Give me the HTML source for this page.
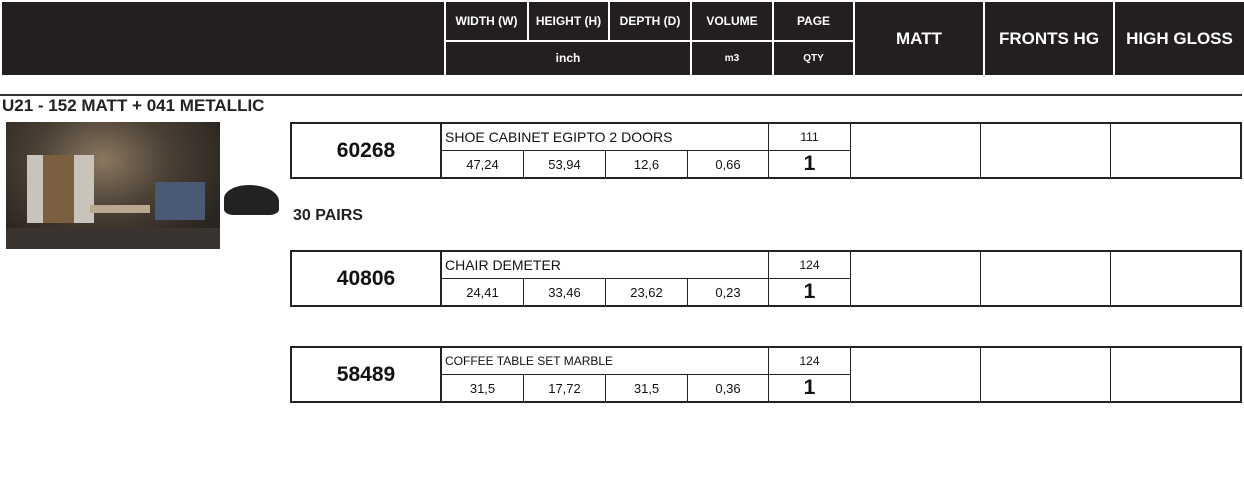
<!DOCTYPE html>
<html><head><meta charset="utf-8"><style>
*{margin:0;padding:0;box-sizing:border-box}
body{width:1244px;height:480px;background:#fff;position:relative;overflow:hidden;font-family:"Liberation Sans",Arial,sans-serif}
.a{position:absolute}
.hd{position:absolute;background:#231f20}
.ht{position:absolute;color:#fff;font-weight:bold;display:flex;align-items:center;justify-content:center}
.c{position:absolute;display:flex;align-items:center;justify-content:center;color:#111;border:1px solid #222}
.v{position:absolute;background:#222}
</style></head><body>
<div class="hd" style="left:2px;top:2px;width:1242px;height:73px"></div>
<div class="v" style="background:#fff;left:444px;top:2px;width:2px;height:73px"></div>
<div class="v" style="background:#fff;left:527px;top:2px;width:2px;height:39px"></div>
<div class="v" style="background:#fff;left:608px;top:2px;width:2px;height:39px"></div>
<div class="v" style="background:#fff;left:690px;top:2px;width:2px;height:73px"></div>
<div class="v" style="background:#fff;left:772px;top:2px;width:2px;height:73px"></div>
<div class="v" style="background:#fff;left:853px;top:2px;width:2px;height:73px"></div>
<div class="v" style="background:#fff;left:983px;top:2px;width:2px;height:73px"></div>
<div class="v" style="background:#fff;left:1113px;top:2px;width:2px;height:73px"></div>
<div class="v" style="background:#fff;left:444px;top:40px;width:411px;height:2px"></div>
<div class="ht" style="left:446px;top:2px;width:81px;height:38px;font-size:12px">WIDTH (W)</div>
<div class="ht" style="left:529px;top:2px;width:79px;height:38px;font-size:12px">HEIGHT (H)</div>
<div class="ht" style="left:610px;top:2px;width:80px;height:38px;font-size:12px">DEPTH (D)</div>
<div class="ht" style="left:692px;top:2px;width:80px;height:38px;font-size:12px">VOLUME</div>
<div class="ht" style="left:774px;top:2px;width:79px;height:38px;font-size:12px">PAGE</div>
<div class="ht" style="left:446px;top:42px;width:244px;height:32px;font-size:12px">inch</div>
<div class="ht" style="left:692px;top:42px;width:80px;height:32px;font-size:10px">m3</div>
<div class="ht" style="left:774px;top:42px;width:79px;height:32px;font-size:10px">QTY</div>
<div class="ht" style="left:855px;top:2px;width:128px;height:73px;font-size:17px">MATT</div>
<div class="ht" style="left:985px;top:2px;width:128px;height:73px;font-size:17px">FRONTS HG</div>
<div class="ht" style="left:1115px;top:2px;width:129px;height:73px;font-size:17px">HIGH GLOSS</div>

<div class="v" style="left:0;top:94px;width:1242px;height:2px;background:#333"></div>
<div class="a" style="left:2px;top:96px;font-size:17px;font-weight:bold;color:#222">U21 - 152 MATT + 041 METALLIC</div>
<div class="a" style="left:6px;top:122px;width:214px;height:127px;background:radial-gradient(ellipse at 45% 30%,#8a7860 0%,#4a4035 40%,#2a2520 80%)"></div>
<div class="a" style="left:27px;top:155px;width:16px;height:68px;background:#c9c4bb"></div>
<div class="a" style="left:74px;top:155px;width:20px;height:68px;background:#c9c4bb"></div>
<div class="a" style="left:43px;top:155px;width:31px;height:68px;background:#7a6040"></div>
<div class="a" style="left:155px;top:182px;width:50px;height:38px;background:#4a5a75"></div>
<div class="a" style="left:90px;top:205px;width:60px;height:8px;background:#b8a890"></div>
<div class="a" style="left:6px;top:228px;width:214px;height:21px;background:#3a3430"></div>
<div class="a" style="left:224px;top:185px;width:55px;height:30px;background:#222;border-radius:50% 60% 20% 20%"></div>
<div class="a" style="left:293px;top:207px;font-size:16px;font-weight:bold;color:#222">30 PAIRS</div>

<!-- rows -->
<div id="rows"></div>
<script>
var rows=[[122,"60268","SHOE CABINET EGIPTO 2 DOORS","111",["47,24","53,94","12,6","0,66"],14],
[250,"40806","CHAIR DEMETER","124",["24,41","33,46","23,62","0,23"],14],
[346,"58489","COFFEE TABLE SET MARBLE","124",["31,5","17,72","31,5","0,36"],12]];
var h="";
rows.forEach(function(r){var y=r[0];
h+='<div class="c" style="left:290px;top:'+y+'px;width:152px;height:57px;border-width:2px;font-size:21px;font-weight:bold">'+r[1]+'</div>';
h+='<div class="c" style="left:441px;top:'+y+'px;width:328px;height:29px;border-width:2px 1px 1px 1px;justify-content:flex-start;padding-left:3px;font-size:'+r[5]+'px">'+r[2]+'</div>';
h+='<div class="c" style="left:768px;top:'+y+'px;width:83px;height:29px;border-width:2px 1px 1px 1px;font-size:12px">'+r[3]+'</div>';
var xs=[441,523,605,687];
r[4].forEach(function(v,i){h+='<div class="c" style="left:'+xs[i]+'px;top:'+(y+28)+'px;width:'+(i==3?82:83)+'px;height:29px;border-width:1px 1px 2px 1px;font-size:13px">'+v+'</div>';});
h+='<div class="c" style="left:768px;top:'+(y+28)+'px;width:83px;height:29px;border-width:1px 1px 2px 1px;font-size:21px;font-weight:bold">1</div>';
h+='<div class="c" style="left:850px;top:'+y+'px;width:131px;height:57px;border-width:2px 1px 2px 1px"></div>';
h+='<div class="c" style="left:980px;top:'+y+'px;width:131px;height:57px;border-width:2px 1px 2px 1px"></div>';
h+='<div class="c" style="left:1110px;top:'+y+'px;width:132px;height:57px;border-width:2px 2px 2px 1px"></div>';
});
document.getElementById("rows").innerHTML=h;
</script>
</body></html>
